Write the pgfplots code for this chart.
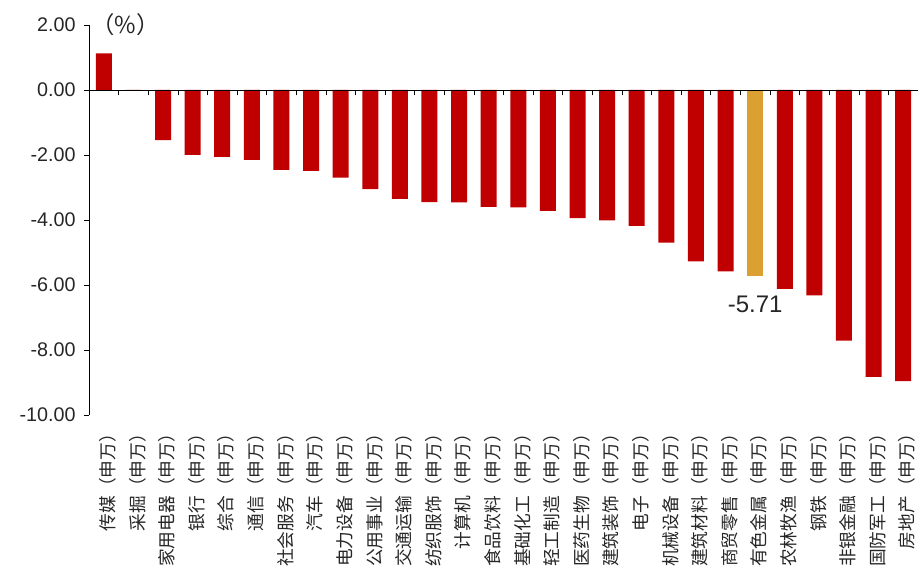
\documentclass[border=0pt]{standalone}
\usepackage{pgfplots}
\pgfplotsset{compat=1.18}
\usepackage{fontspec}
\setmainfont{Liberation Sans}
\newfontfamily\cjk{Noto Sans CJK SC}
\definecolor{barred}{RGB}{192,0,0}
\definecolor{bargold}{RGB}{218,160,50}

\begin{document}
\begin{tikzpicture}
% main axis: bars, y axis, category labels
\begin{axis}[
    name=main,
    scale only axis,
    width=621.75pt, height=292.5pt,
    xmin=-0.5, xmax=27.5,
    ymin=-10, ymax=2,
    axis y line*=left,
    axis x line*=bottom,
    x axis line style={draw=none},
    xtick={0,...,27},
    xticklabels={传媒（申万）,采掘（申万）,家用电器（申万）,银行（申万）,综合（申万）,通信（申万）,社会服务（申万）,汽车（申万）,电力设备（申万）,公用事业（申万）,交通运输（申万）,纺织服饰（申万）,计算机（申万）,食品饮料（申万）,基础化工（申万）,轻工制造（申万）,医药生物（申万）,建筑装饰（申万）,电子（申万）,机械设备（申万）,建筑材料（申万）,商贸零售（申万）,有色金属（申万）,农林牧渔（申万）,钢铁（申万）,非银金融（申万）,国防军工（申万）,房地产（申万）},
    xticklabel style={rotate=90, anchor=east, yshift=-3pt, font=\cjk\fontsize{13.3}{13.3}\selectfont, text=black!85},
    x tick style={draw=none},
    ytick={-10,-8,...,2},
    yticklabel style={font=\fontsize{14.8}{14.8}\selectfont, text=black!85, xshift=-2.5pt,
        /pgf/number format/.cd, fixed, fixed zerofill, precision=2, assume math mode=true},
    y tick style={black, thin},
    tick align=outside,
    major tick length=4pt,
    y axis line style={black, thin},
    clip=false,
]
\addplot[ybar, bar width=12pt, bar shift=0pt, fill=barred, draw=none] coordinates {
    (0,1.13) (1,0) (2,-1.54) (3,-2.00) (4,-2.06) (5,-2.15) (6,-2.46)
    (7,-2.49) (8,-2.70) (9,-3.05) (10,-3.35) (11,-3.45) (12,-3.46)
    (13,-3.60) (14,-3.61) (15,-3.72) (16,-3.94) (17,-4.01) (18,-4.18)
    (19,-4.70) (20,-5.27) (21,-5.58) (23,-6.12) (24,-6.32) (25,-7.71)
    (26,-8.83) (27,-8.96)
};
\addplot[ybar, bar width=12pt, bar shift=0pt, fill=bargold, draw=none,
    nodes near coords={\pgfmathprintnumber[fixed,fixed zerofill,precision=2,assume math mode=true]{\pgfplotspointmeta}},
    nodes near coords style={anchor=north, yshift=-12pt, font=\fontsize{18}{18}\selectfont, text=black!85}]
    coordinates {(22,-5.71)};
\node[anchor=west, font=\cjk\fontsize{17.5}{17.5}\selectfont, text=black!85] at (axis cs:-0.58,2) {（\%）};
\end{axis}
% overlay axis: zero line with boundary ticks
\begin{axis}[
    scale only axis,
    width=621.75pt, height=292.5pt,
    xmin=-0.5, xmax=27.5,
    ymin=-10, ymax=2,
    axis x line=middle,
    axis y line=none,
    axis line style={-, black, thin},
    xtick={0.5,1.5,...,26.5},
    xticklabels={},
    ytick=\empty,
    tick align=center,
    major tick length=4pt,
    x tick style={black, thin, yshift=-2pt},
]
\addplot[draw=none] coordinates {(0,0)};
\end{axis}
\pgfresetboundingbox
\path[use as bounding box] ([xshift=-66.75pt,yshift=-118.5pt]main.south west) rectangle ([yshift=18.75pt]main.north east);
\end{tikzpicture}
\end{document}
